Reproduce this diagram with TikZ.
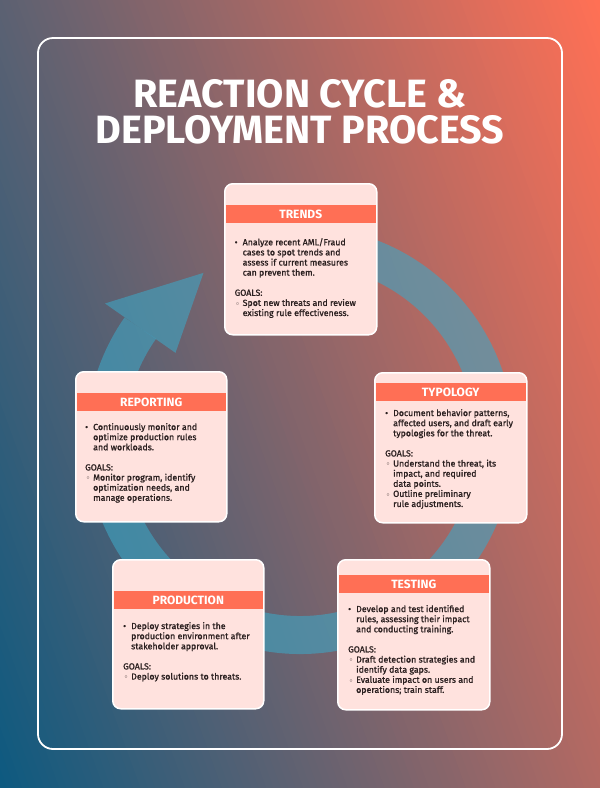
\documentclass[tikz,border=0pt]{standalone}
\usepackage{fontspec}
\setmainfont{Fira Sans}
\newfontfamily\bodyf{Fira Sans}[FakeBold=1.2]
\usetikzlibrary{calc}
\definecolor{bgA}{HTML}{0E5A80}
\definecolor{bgB}{HTML}{FF7055}
\definecolor{ringc}{HTML}{3FA5C3}
\definecolor{cardfill}{HTML}{FFE2DE}
\definecolor{headc}{HTML}{FF6F55}
\definecolor{textc}{HTML}{2B2020}
\newcommand\bu{\makebox[8pt][l]{\textbullet}}
\newcommand\gb{\makebox[8pt][l]{\hspace{1.5pt}\raisebox{0.6pt}{\scalebox{0.65}{$\circ$}}}}
\newcommand\ii{\hspace*{8pt}}
\begin{document}
\begin{tikzpicture}[x=1pt,y=-1pt,
  frame/.style={draw=white, line width=1.8pt, rounded corners=15pt, inner sep=0pt},
  card/.style={rounded corners=8pt, fill=cardfill, draw=white, line width=1.5pt, inner sep=0pt, anchor=north west},
  band/.style={fill=headc, inner sep=0pt, minimum height=17.5pt, anchor=north, text=white, font=\fontsize{12}{14}\selectfont\bfseries},
  body/.style={text=textc, font=\bodyf\fontsize{8.8}{10.1}\selectfont, align=left, inner sep=0pt, anchor=north west},
  ttl/.style={text=white, font=\fontsize{39.5}{35}\selectfont\bfseries, inner sep=0pt, anchor=base},
  ring/.style={draw=ringc, draw opacity=0.6, line width=38pt},
  ringhead/.style={fill=ringc, fill opacity=0.6},
  ]
\useasboundingbox (0,0) rectangle (600,788);
% background gradient
\begin{scope}
  \clip (0,0) rectangle (600,788);
  \begin{scope}[shift={(0,788)}, rotate=20]
    \foreach \i in {0,...,119}{
      \pgfmathsetmacro\sa{6.95*\i}
      \pgfmathsetmacro\sb{6.95*(\i+1)+0.8}
      \pgfmathsetmacro\pc{100*\i/119}
      \fill[bgB!\pc!bgA] (\sa,-1200) rectangle (\sb,1200);
    }
  \end{scope}
\end{scope}
% frame
\node[frame, minimum width=524pt, minimum height=711pt] (frame) at (300,393.5) {};
% title
\node[ttl] (title1) at (300,107) {REACTION CYCLE \&};
\node[ttl] (title2) at (300,143) {DEPLOYMENT PROCESS};
% ring
\coordinate (C) at (300,440);
\draw[ring] ($(C)+(-80:195)$) arc[start angle=-80, end angle=215, radius=195];
\fill[ringhead] ($(C)+(-145:152)$) -- ($(C)+(-120:193)$) -- ($(C)+(-145:238)$) -- cycle;
% TRENDS
\node[card, minimum width=152pt, minimum height=151pt] (trends) at (224,183) {};
\node[band, minimum width=150pt] (trendsH) at ($(trends.north)+(0,22)$) {TRENDS};
\node[body] (trendsB) at (234.5,238) {\bu Analyze recent AML/Fraud\\\ii cases to spot trends and\\\ii assess if current measures\\\ii can prevent them.\\[10.1pt]GOALS:\\\gb Spot new threats and review\\\ii existing rule effectiveness.};
% REPORTING
\node[card, minimum width=151pt, minimum height=150pt] (rep) at (75,371) {};
\node[band, minimum width=149pt] (repH) at ($(rep.north)+(0,22)$) {REPORTING};
\node[body] (repB) at (85,423) {\bu Continuously monitor and\\\ii optimize production rules\\\ii and workloads.\\[10.1pt]GOALS:\\\gb Monitor program, identify\\\ii optimization needs, and\\\ii manage operations.};
% TYPOLOGY
\node[card, minimum width=152pt, minimum height=150pt] (typ) at (374,372) {};
\node[band, minimum width=150pt] (typH) at ($(typ.north)+(0,11)$) {TYPOLOGY};
\node[body] (typB) at (385,409) {\bu Document behavior patterns,\\\ii affected users, and draft early\\\ii typologies for the threat.\\[10.1pt]GOALS:\\\gb Understand the threat, its\\\ii impact, and required\\\ii data points.\\\gb Outline preliminary\\\ii rule adjustments.};
% PRODUCTION
\node[card, minimum width=151pt, minimum height=149pt] (prod) at (112,559) {};
\node[band, minimum width=149pt] (prodH) at ($(prod.north)+(0,32)$) {PRODUCTION};
\node[body] (prodB) at (123,622) {\bu Deploy strategies in the\\\ii production environment after\\\ii stakeholder approval.\\[10.1pt]GOALS:\\\gb Deploy solutions to threats.};
% TESTING
\node[card, minimum width=152pt, minimum height=150pt] (test) at (337,559) {};
\node[band, minimum width=150pt] (testH) at ($(test.north)+(0,16)$) {TESTING};
\node[body] (testB) at (348,605) {\bu Develop and test identified\\\ii rules, assessing their impact\\\ii and conducting training.\\[10.1pt]GOALS:\\\gb Draft detection strategies and\\\ii identify data gaps.\\\gb Evaluate impact on users and\\\ii operations; train staff.};
\end{tikzpicture}
\end{document}
